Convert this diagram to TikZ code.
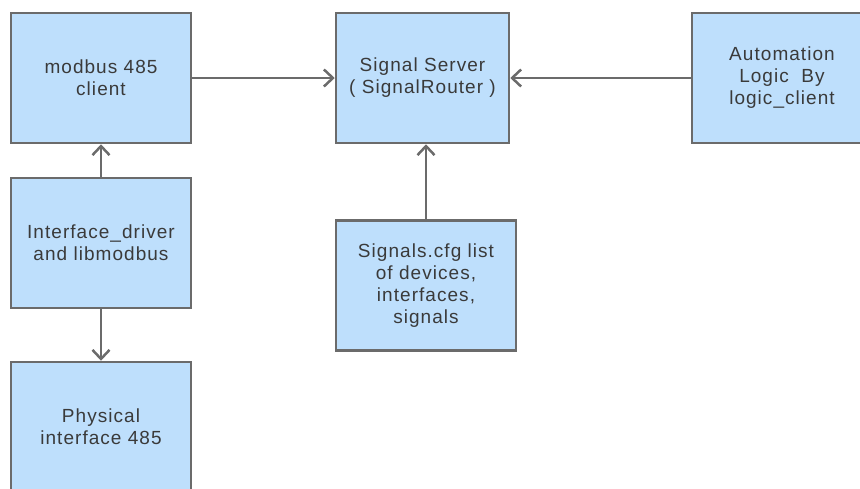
\documentclass[tikz,border=0pt]{standalone}
\usepackage{fontspec}
\setmainfont{Liberation Sans}[LetterSpace=5.5]
\usetikzlibrary{arrows.meta}
\definecolor{boxfill}{HTML}{BEDFFC}
\definecolor{edgegray}{HTML}{6B6B6B}
\definecolor{txtgray}{HTML}{3A3A3A}
\begin{document}
\begin{tikzpicture}[x=1pt,y=-1pt,
  box/.style={draw=edgegray, line width=2.5pt, fill=boxfill, minimum width=180pt,
    minimum height=130pt, text=txtgray, align=center,
    font=\fontsize{19}{22}\selectfont, inner sep=0pt},
  conn/.style={draw=edgegray, line width=2.5pt, -{Straight Barb[length=9pt,width=17pt]}}]
\useasboundingbox (0,0) rectangle (860,488);
\clip (0,0) rectangle (860,488);
\node[box] (mb) at (101,78) {modbus 485\\client};
\node[box, minimum width=173pt] (ss) at (422.5,78) {Signal Server\\( SignalRouter )};
\node[box] (al) at (782,78) {Automation\\Logic~~By\\logic\_client};
\node[box] (ifd) at (101,243) {Interface\_driver\\and libmodbus};
\node[box] (ph) at (101,427) {Physical\\interface 485};
\node[box] (sc) at (426,285.5) {Signals.cfg list\\of devices,\\interfaces,\\signals};
\draw[conn] (mb.east) -- (ss.west);
\draw[conn] (al.west) -- (ss.east);
\draw[conn] (ifd.north) -- (mb.south);
\draw[conn] (ifd.south) -- (ph.north);
\draw[conn] (sc.north) -- (sc.north |- ss.south);
\end{tikzpicture}
\end{document}
